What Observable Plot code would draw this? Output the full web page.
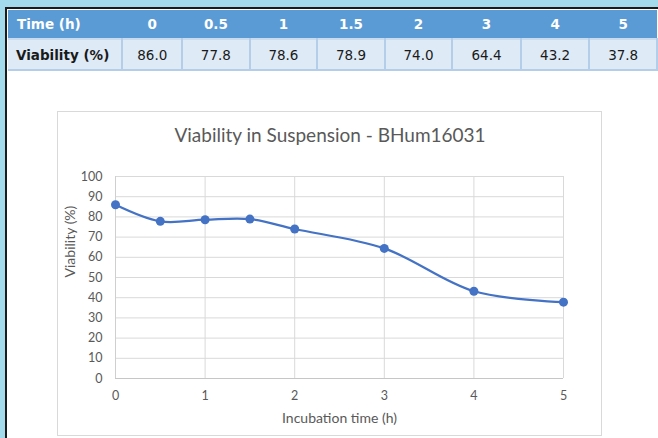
<!DOCTYPE html>
<html>
<head>
<meta charset="utf-8">
<script src="https://cdn.jsdelivr.net/npm/d3@7"></script>
<script src="https://cdn.jsdelivr.net/npm/@observablehq/plot@0.6"></script>
<style>
  html, body { margin: 0; padding: 0; }
  body { width: 658px; height: 438px; overflow: hidden; background: #a3dbec; position: relative; }
  #page { position: absolute; left: 5px; top: 7px; width: 700px; height: 500px; background: #fff;
          border-top: 2px solid #1c1c1c; border-left: 2px solid #1c1c1c; }
  table { position: absolute; left: 8px; top: 10px; border-collapse: collapse; table-layout: fixed;
          font-family: "DejaVu Sans", sans-serif; font-size: 13.5px; }
  th { background: #5b9bd5; color: #fff; font-weight: bold; height: 28px; padding: 0; text-align: center; }
  th:first-child { text-align: left; padding-left: 9px; }
  td { background: #deeaf6; color: #1a1a1a; height: 29px; padding: 0; text-align: center;
       border: 2px solid #b4cde9; border-top: 2px solid #c9dbef; }
  td:first-child { font-weight: bold; text-align: left; padding-left: 8px; border-left: none; }
  #box { position: absolute; left: 57px; top: 111px; width: 543px; height: 323px; border: 1px solid #d9d9d9; }
  #chart { position: absolute; left: 57px; top: 111px; }
</style>
</head>
<body>
<div id="page"></div>
<table id="tbl"></table>
<div id="box"></div>
<div id="chart"></div>
<script>
const times = [0, 0.5, 1, 1.5, 2, 3, 4, 5];
const viability = [86.0, 77.8, 78.6, 78.9, 74.0, 64.4, 43.2, 37.8];
const timeLabels = ["0", "0.5", "1", "1.5", "2", "3", "4", "5"];
const viabilityLabels = ["86.0", "77.8", "78.6", "78.9", "74.0", "64.4", "43.2", "37.8"];
const xTicks = [0, 1, 2, 3, 4, 5];
const yTicks = [0, 10, 20, 30, 40, 50, 60, 70, 80, 90, 100];
const title = "Viability in Suspension - BHum16031";
const xLabel = "Incubation time (h)";
const yLabel = "Viability (%)";
const colWidths = [115, 60, 68, 68, 68, 68, 69, 69, 68];

// table
const tbl = document.getElementById("tbl");
const cg = document.createElement("colgroup");
colWidths.forEach(w => { const c = document.createElement("col"); c.style.width = w + "px"; cg.appendChild(c); });
tbl.appendChild(cg);
const r1 = document.createElement("tr");
["Time (h)", ...timeLabels].forEach(t => { const th = document.createElement("th"); th.textContent = t; r1.appendChild(th); });
const r2 = document.createElement("tr");
["Viability (%)", ...viabilityLabels].forEach(t => { const td = document.createElement("td"); td.textContent = t; r2.appendChild(td); });
tbl.appendChild(r1); tbl.appendChild(r2);

const data = times.map((t, i) => ({t, v: viability[i]}));
const blue = "#4472c4";
const gray = "#595959";
const font = "Lato, 'Open Sans', sans-serif";

const plot = Plot.plot({
  width: 545,
  height: 325,
  marginLeft: 58,
  marginRight: 39,
  marginTop: 65,
  marginBottom: 58,
  style: {fontFamily: font, fontSize: "12.5px", color: gray, background: "transparent", overflow: "visible"},
  x: {domain: [0, 5], ticks: xTicks, label: null},
  y: {domain: [0, 100], ticks: yTicks, label: null},
  marks: [
    Plot.gridX(xTicks, {stroke: "#d9d9d9", strokeOpacity: 1}),
    Plot.gridY(yTicks, {stroke: "#d9d9d9", strokeOpacity: 1}),
    Plot.ruleY([0], {stroke: "#c6c6c6"}),
    Plot.ruleX([0], {stroke: "#cfcfcf"}),
    Plot.axisX(xTicks, {tickSize: 0, tickPadding: 13, fill: gray, fontSize: 12.5}),
    Plot.axisY(yTicks, {tickSize: 0, tickPadding: 13, fill: gray, fontSize: 12.5}),
    Plot.line(data, {x: "t", y: "v", stroke: blue, strokeWidth: 2.25, curve: "catmull-rom"}),
    Plot.dot(data, {x: "t", y: "v", fill: blue, r: 4.5}),
    Plot.text([title], {text: d => d, frameAnchor: "top", lineAnchor: "middle", dx: -9.5, dy: -41, fontSize: 19, fill: gray, fontFamily: font}),
    Plot.text([xLabel], {text: d => d, frameAnchor: "bottom", lineAnchor: "middle", dy: 40, fontSize: 14, fill: gray, fontFamily: font}),
    Plot.text([yLabel], {text: d => d, frameAnchor: "left", dx: -45, rotate: -90, fontSize: 14, fill: gray, fontFamily: font})
  ]
});
document.getElementById("chart").appendChild(plot);
</script>
</body>
</html>
